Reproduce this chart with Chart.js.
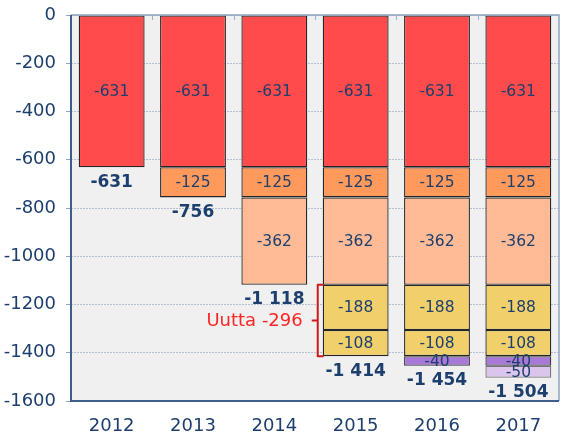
<!DOCTYPE html>
<html>
<head>
<meta charset="utf-8">
<script src="https://cdn.jsdelivr.net/npm/chart.js@4"></script>
<style>
  html, body { margin: 0; padding: 0; background: #fff; }
  #wrap { width: 562px; height: 445px; position: relative; }
</style>
</head>
<body>
<div id="wrap"><canvas id="c"></canvas></div>
<script>
const years = ["2012", "2013", "2014", "2015", "2016", "2017"];
const base631 = [-631, -631, -631, -631, -631, -631];
const cut125 = [null, -125, -125, -125, -125, -125];
const cut362 = [null, null, -362, -362, -362, -362];
const new188 = [null, null, null, -188, -188, -188];
const new108 = [null, null, null, -108, -108, -108];
const cut40 = [null, null, null, null, -40, -40];
const cut50 = [null, null, null, null, null, -50];
const totals = [-631, -756, -1118, -1414, -1454, -1504];
const yTicks = [0, -200, -400, -600, -800, -1000, -1200, -1400, -1600];
const bracketYear = "2015";
const bracketFrom = -1118;
const bracketTo = -1414;
const bracketText = "Uutta -296";

const NAVY = "#1d3f6e";
const FONT = "'DejaVu Sans', Verdana, sans-serif";

function fmtTotal(v) {
  const s = String(Math.abs(v)).replace(/\B(?=(\d{3})+(?!\d))/g, " ");
  return (v < 0 ? "-" : "") + s;
}

const segments = [
  { data: base631, color: "#ff4b4b", border: "#262626" },
  { data: cut125, color: "#ff9a5c", border: "#262626" },
  { data: cut362, color: "#ffbb95", border: "#262626" },
  { data: new188, color: "#f1d06b", border: "#262626" },
  { data: new108, color: "#f1d06b", border: "#262626" },
  { data: cut40, color: "#a879d8", border: "#383838" },
  { data: cut50, color: "#dcc5ec", border: "#777" },
];

const decor = {
  id: "decor",
  beforeDraw(chart) {
    const { ctx, chartArea: a } = chart;
    ctx.save();
    ctx.fillStyle = "#f0f0f0";
    ctx.fillRect(a.left, a.top, a.right - a.left, a.bottom - a.top);
    ctx.restore();
  },
  afterDatasetsDraw(chart) {
    const { ctx, chartArea: a, scales } = chart;
    const x = scales.x, y = scales.y;
    ctx.save();
    // frame
    ctx.lineWidth = 1.5;
    ctx.strokeStyle = "#8ea3c2";
    ctx.beginPath();
    ctx.moveTo(a.left, a.top);
    ctx.lineTo(a.right, a.top);
    ctx.lineTo(a.right, a.bottom);
    ctx.stroke();
    ctx.lineWidth = 2;
    ctx.strokeStyle = "#3d5d8c";
    ctx.beginPath();
    ctx.moveTo(a.left, a.top);
    ctx.lineTo(a.left, a.bottom);
    ctx.lineTo(a.right, a.bottom);
    ctx.stroke();
    // category ticks on top edge
    ctx.lineWidth = 1;
    ctx.strokeStyle = "#9fb0c8";
    const cw = (a.right - a.left) / years.length;
    for (let i = 1; i < years.length; i++) {
      const px = Math.round(a.left + cw * i) + 0.5;
      ctx.beginPath();
      ctx.moveTo(px, a.top);
      ctx.lineTo(px, a.top + 5);
      ctx.stroke();
    }

    // segment labels
    ctx.textAlign = "center";
    ctx.textBaseline = "middle";
    ctx.fillStyle = NAVY;
    ctx.font = "15.5px " + FONT;
    chart.data.datasets.forEach((ds, di) => {
      const meta = chart.getDatasetMeta(di);
      meta.data.forEach((el, i) => {
        const v = ds.data[i];
        if (v === null || v === undefined) return;
        const p = el.getProps(["x", "y", "base"], true);
        ctx.fillText(String(v), p.x, (p.y + p.base) / 2 + 1);
      });
    });

    // totals under bars
    ctx.font = "bold 17px " + FONT;
    totals.forEach((t, i) => {
      ctx.fillText(fmtTotal(t), x.getPixelForValue(i), y.getPixelForValue(t) + 15);
    });

    // bracket for new items
    const bi = years.indexOf(bracketYear);
    const leftEdge = x.getPixelForValue(bi) - cw * 0.81 / 2;
    const bx = leftEdge - 5;
    const y1 = y.getPixelForValue(bracketFrom);
    const y2 = y.getPixelForValue(bracketTo);
    const ym = (y1 + y2) / 2;
    ctx.strokeStyle = "#cc1a1a";
    ctx.lineWidth = 2;
    ctx.lineJoin = "round";
    ctx.beginPath();
    ctx.moveTo(bx + 6, y1);
    ctx.lineTo(bx, y1);
    ctx.lineTo(bx, y2);
    ctx.lineTo(bx + 6, y2);
    ctx.moveTo(bx, ym);
    ctx.lineTo(bx - 6, ym);
    ctx.stroke();
    ctx.fillStyle = "#ff2424";
    ctx.font = "18px " + FONT;
    ctx.textAlign = "right";
    ctx.fillText(bracketText, bx - 15, ym + 1);
    ctx.restore();
  },
};

new Chart(document.getElementById("c").getContext("2d"), {
  type: "bar",
  data: {
    labels: years,
    datasets: segments.map((s) => ({
      data: s.data,
      backgroundColor: s.color,
      borderColor: s.border,
      borderWidth: 1.3,
      borderSkipped: false,
      categoryPercentage: 1,
      barPercentage: 0.81,
    })),
  },
  options: {
    responsive: true,
    maintainAspectRatio: false,
    animation: false,
    layout: { padding: { top: 15, right: 3, left: 0, bottom: 0 } },
    plugins: { legend: { display: false }, tooltip: { enabled: false } },
    scales: {
      x: {
        stacked: true,
        grid: { display: false },
        border: { display: false },
        ticks: { color: NAVY, font: { family: FONT, size: 18 }, padding: 7 },
        afterFit: (s) => { s.height = 44; },
      },
      y: {
        stacked: true,
        min: -1600,
        max: 0,
        ticks: {
          stepSize: 100,
          color: NAVY,
          font: { family: FONT, size: 18 },
          padding: 10,
          callback: (v) => (yTicks.includes(v) ? String(v) : ""),
        },
        grid: {
          color: (c) => (c.tick && yTicks.includes(c.tick.value) ? "#b4c0d2" : "rgba(0,0,0,0)"),
          tickColor: "#8ea3c2",
          tickLength: 5,
          lineWidth: 1,
        },
        border: { display: false, dash: [2, 1] },
        afterFit: (s) => {
          s.width = 71;
          s.paddingTop = 0;
          s.paddingBottom = 0;
        },
      },
    },
  },
  plugins: [decor],
});
</script>
</body>
</html>
